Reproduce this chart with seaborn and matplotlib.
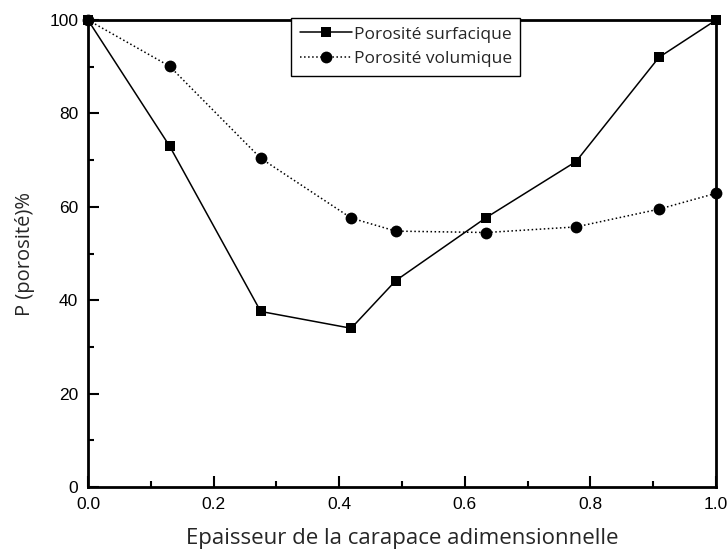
import numpy as np
import pandas as pd
import matplotlib
matplotlib.use("Agg")
import matplotlib.pyplot as plt
from matplotlib.ticker import MultipleLocator
import seaborn as sns

# epaisseur adimensionnelle (same abscissa for both series)
epaisseur = [0.0, 0.13, 0.275, 0.419, 0.49, 0.634, 0.777, 0.909, 1.0]
poro_surf = [100.0, 73.0, 37.6, 34.0, 44.2, 57.7, 69.7, 92.0, 100.0]
poro_vol = [100.0, 90.1, 70.4, 57.6, 54.8, 54.5, 55.7, 59.5, 62.9]

labels = ["Porosité surfacique", "Porosité volumique"]

df_surf = pd.DataFrame({"x": epaisseur, "y": poro_surf})
df_vol = pd.DataFrame({"x": epaisseur, "y": poro_vol})

sns.set_style("ticks")
plt.rcParams['font.family'] = ['Liberation Sans', 'DejaVu Sans']

fig = plt.figure(figsize=(7.27, 5.56), dpi=100)
ax = fig.add_axes([0.121, 0.124, 0.864, 0.840])

sns.lineplot(data=df_surf, x="x", y="y", ax=ax, color="black", lw=1.1,
             marker="s", markersize=7, markeredgewidth=0, label=labels[0],
             clip_on=False, zorder=4)
sns.lineplot(data=df_vol, x="x", y="y", ax=ax, color="black", lw=1.1,
             linestyle=":", marker="o", markersize=8.5, markeredgewidth=0,
             label=labels[1], clip_on=False, zorder=4)

ax.set_xlim(0, 1)
ax.set_ylim(0, 100)
ax.xaxis.set_major_locator(MultipleLocator(0.2))
ax.xaxis.set_minor_locator(MultipleLocator(0.1))
ax.yaxis.set_major_locator(MultipleLocator(20))
ax.yaxis.set_minor_locator(MultipleLocator(10))
ax.tick_params(which="both", direction="in", top=False, right=False,
               labelsize=12.5, width=1.5, color="black", labelcolor="black")
ax.tick_params(which="major", length=8, pad=7)
ax.tick_params(which="minor", length=4)
for s in ax.spines.values():
    s.set_linewidth(2)
    s.set_color("black")

ax.set_xlabel("Epaisseur de la carapace adimensionnelle", family="Open Sans",
              fontsize=16, labelpad=12)
ax.set_ylabel("P (porosité)%", family="Open Sans", fontsize=14.5, labelpad=10)

leg = ax.legend(loc="upper center", bbox_to_anchor=(0.506, 1.005),
                prop={"family": "Open Sans", "size": 12.5},
                frameon=True, fancybox=False, framealpha=1, edgecolor="black",
                handlelength=3.0, handletextpad=0.1, borderpad=0.5,
                labelspacing=0.5, borderaxespad=0)
leg.get_frame().set_linewidth(1)

plt.savefig("out.png", dpi=100)
